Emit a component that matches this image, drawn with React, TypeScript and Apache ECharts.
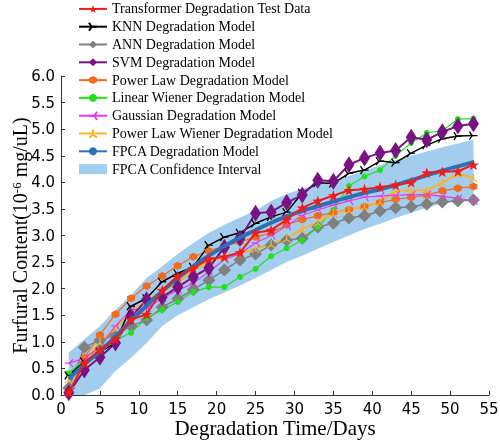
import React, { useEffect, useRef } from "react";
import * as echarts from "echarts";

const days = [1, 3, 5, 7, 9, 11, 13, 15, 17, 19, 21, 23, 25, 27, 29, 31, 33, 35, 37, 39, 41, 43, 45, 47, 49, 51, 53];

const testData = [0.05, 0.6, 0.85, 1.05, 1.42, 1.52, 1.97, 2.24, 2.38, 2.56, 2.6, 2.68, 3.05, 3.1, 3.3, 3.52, 3.65, 3.75, 3.85, 3.87, 3.91, 3.95, 4.0, 4.18, 4.2, 4.21, 4.33];
const knn = [0.37, 0.63, 0.81, 0.98, 1.67, 1.82, 2.13, 2.29, 2.41, 2.82, 2.97, 3.05, 3.23, 3.35, 3.44, 3.8, 3.99, 3.98, 4.17, 4.23, 4.4, 4.37, 4.55, 4.7, 4.82, 4.87, 4.88];
const ann = [0.13, 0.9, 1.03, 1.13, 1.3, 1.41, 1.65, 1.81, 1.98, 2.16, 2.35, 2.54, 2.65, 2.82, 2.91, 2.95, 3.16, 3.23, 3.33, 3.37, 3.46, 3.52, 3.54, 3.59, 3.63, 3.65, 3.67];
const svm = [0.04, 0.47, 0.71, 0.98, 1.47, 1.79, 1.84, 2.03, 2.22, 2.39, 2.78, 2.95, 3.42, 3.44, 3.62, 3.76, 4.04, 4.02, 4.33, 4.46, 4.55, 4.6, 4.85, 4.8, 4.95, 5.06, 5.1];
const powerLaw = [0.02, 0.7, 1.13, 1.52, 1.82, 2.05, 2.24, 2.43, 2.6, 2.71, 2.8, 2.88, 2.97, 3.05, 3.2, 3.3, 3.37, 3.43, 3.49, 3.54, 3.62, 3.68, 3.72, 3.76, 3.84, 3.89, 3.92];
const linearWiener = [0.41, 0.68, 0.9, 1.03, 1.17, 1.45, 1.6, 1.75, 1.94, 2.03, 2.03, 2.22, 2.37, 2.61, 2.76, 2.91, 3.16, 3.48, 3.93, 4.11, 4.23, 4.5, 4.74, 4.93, 4.97, 5.19, 5.2];
const gaussian = [0.6, 0.69, 0.9, 1.3, 1.6, 1.63, 1.82, 1.97, 2.1, 2.32, 2.55, 2.66, 2.86, 3.0, 3.18, 3.38, 3.48, 3.57, 3.65, 3.72, 3.74, 3.76, 3.77, 3.77, 3.74, 3.7, 3.65];
const powerLawWiener = [0.3, 0.65, 1.0, 1.25, 1.55, 1.78, 1.95, 2.1, 2.35, 2.5, 2.6, 2.66, 2.75, 2.84, 2.95, 3.12, 3.25, 3.42, 3.48, 3.55, 3.64, 3.84, 3.85, 3.85, 4.0, 4.16, 4.08];
const fpca = [0.3, 0.58, 0.82, 1.1, 1.4, 1.68, 1.95, 2.2, 2.42, 2.62, 2.8, 2.96, 3.1, 3.24, 3.36, 3.46, 3.55, 3.64, 3.72, 3.8, 3.87, 3.95, 4.04, 4.13, 4.22, 4.3, 4.38];
const bandLower = [0, 0, 0.12, 0.45, 0.7, 0.98, 1.3, 1.5, 1.65, 1.8, 1.93, 2.06, 2.2, 2.35, 2.5, 2.62, 2.75, 2.88, 3.0, 3.12, 3.22, 3.33, 3.43, 3.52, 3.6, 3.66, 3.72];
const bandUpper = [0.8, 1.05, 1.3, 1.6, 1.88, 2.2, 2.42, 2.65, 2.86, 3.05, 3.2, 3.34, 3.47, 3.65, 3.78, 3.88, 3.96, 4.04, 4.12, 4.22, 4.32, 4.42, 4.5, 4.58, 4.66, 4.73, 4.8];

const xTicks = [0, 55, 5];
const yTicks = [0, 6, 0.5];

const serif = "'Liberation Serif', 'Times New Roman', serif";
const sans = "'DejaVu Sans', sans-serif";
const BAND_COLOR = "#a3cdee";

const STAR = "path://M0,-10L2.35,-3.24L9.51,-3.09L3.8,1.24L5.88,8.09L0,4L-5.88,8.09L-3.8,1.24L-9.51,-3.09L-2.35,-3.24Z";
const TRI_RIGHT = "path://M0,0L10,0M0,0L-5,-8.66M0,0L-5,8.66";
const TRI_LEFT = "path://M0,0L-10,0M0,0L5,-8.66M0,0L5,8.66";
const TRI_UP = "path://M0,0L0,-10M0,0L-8.66,5M0,0L8.66,5";
const THIN_DIAMOND = "path://M0,-10L6,0L0,10L-6,0Z";
const HEXAGON = "path://M0,-10L8.66,-5L8.66,5L0,10L-8.66,5L-8.66,-5Z";

function pairs(vals: number[]) {
  return days.map((d, i) => [d, vals[i]]);
}

export default function App() {
  const ref = useRef<HTMLDivElement>(null);
  useEffect(() => {
    if (!ref.current) return;
    const chart = echarts.init(ref.current, undefined, { renderer: "svg" });
    const lineSeries = (
      name: string,
      vals: number[],
      color: string,
      width: number,
      symbol: string,
      size: number | number[],
      extra: any = {}
    ) => ({
      name,
      type: "line",
      data: pairs(vals),
      symbol,
      symbolSize: size,
      showSymbol: true,
      lineStyle: { color, width },
      itemStyle: { color, borderColor: color, borderWidth: extra.bw ?? 0 },
      emphasis: { disabled: true },
      z: extra.z ?? 2,
    });
    const option: any = {
      animation: false,
      grid: { left: 61, right: 11, top: 76, bottom: 46, containLabel: false, outerBoundsMode: "none" },
      legend: {
        left: 78,
        top: 0,
        orient: "vertical",
        itemWidth: 28,
        itemHeight: 10,
        itemGap: 0,
        padding: 0,
        textStyle: { fontFamily: serif, fontSize: 14, color: "#000", lineHeight: 17.8 },
        data: [
          "Transformer Degradation Test Data",
          "KNN Degradation Model",
          "ANN Degradation Model",
          "SVM Degradation Model",
          "Power Law Degradation Model",
          "Linear Wiener Degradation Model",
          "Gaussian Degradation Model",
          "Power Law Wiener Degradation Model",
          "FPCA Degradation Model",
          { name: "FPCA Confidence Interval", icon: "rect" },
        ],
      },
      xAxis: {
        type: "value",
        min: xTicks[0],
        max: xTicks[1],
        interval: xTicks[2],
        name: "Degradation Time/Days",
        nameLocation: "middle",
        nameGap: 25,
        nameMoveOverlap: false,
        nameTextStyle: { fontFamily: serif, fontSize: 21, lineHeight: 16, color: "#000" },
        axisLine: { lineStyle: { color: "#333", width: 1 } },
        axisTick: { inside: true, length: 4, lineStyle: { color: "#333" } },
        axisLabel: { fontFamily: sans, fontSize: 15, color: "#000", margin: 6, lineHeight: 15 },
        splitLine: { show: false },
      },
      yAxis: {
        type: "value",
        min: yTicks[0],
        max: yTicks[1],
        interval: yTicks[2],
        name: "{a|Furfural Content(10}{b|-6}{a| mg/uL)}",
        nameLocation: "middle",
        nameGap: 31,
        nameMoveOverlap: false,
        nameTextStyle: {
          rich: {
            a: { fontFamily: serif, fontSize: 20, color: "#000", lineHeight: 20 },
            b: { fontFamily: serif, fontSize: 13, color: "#000", lineHeight: 10, verticalAlign: "top" },
          },
        },
        axisLine: { show: true, lineStyle: { color: "#333", width: 1 } },
        axisTick: { show: true, inside: true, length: 4, lineStyle: { color: "#333" } },
        axisLabel: {
          fontFamily: sans,
          fontSize: 15,
          color: "#000",
          margin: 6,
          formatter: (v: number) => v.toFixed(1),
        },
        splitLine: { show: false },
      },
      series: [
        {
          name: "FPCA Confidence Interval",
          type: "custom",
          data: [[days[0], bandUpper[0]]],
          itemStyle: { color: BAND_COLOR },
          z: 1,
          silent: true,
          renderItem: (_params: any, api: any) => {
            const pts: number[][] = [];
            for (let i = 0; i < days.length; i++) pts.push(api.coord([days[i], bandUpper[i]]));
            for (let i = days.length - 1; i >= 0; i--) pts.push(api.coord([days[i], bandLower[i]]));
            return { type: "polygon", shape: { points: pts }, style: { fill: BAND_COLOR } };
          },
        },
        lineSeries("ANN Degradation Model", ann, "#808080", 1.5, "diamond", 13),
        lineSeries("Linear Wiener Degradation Model", linearWiener, "#22e01e", 1.2, "circle", 6),
        lineSeries("Power Law Degradation Model", powerLaw, "#f26b1f", 1.2, HEXAGON, 8),
        lineSeries("Power Law Wiener Degradation Model", powerLawWiener, "#f5b52a", 2, TRI_UP, 8, { bw: 1.2 }),
        lineSeries("Gaussian Degradation Model", gaussian, "#e53ce8", 1.2, TRI_LEFT, 8, { bw: 1.2 }),
        lineSeries("KNN Degradation Model", knn, "#000000", 1.5, TRI_RIGHT, 8, { bw: 1.3 }),
        lineSeries("SVM Degradation Model", svm, "#7a1382", 2, THIN_DIAMOND, [11, 17]),
        {
          name: "FPCA Degradation Model",
          type: "line",
          data: pairs(fpca),
          smooth: true,
          symbol: "none",
          lineStyle: { color: "#2e70b4", width: 4 },
          itemStyle: { color: "#2e70b4" },
          z: 3,
        },
        lineSeries("Transformer Degradation Test Data", testData, "#ee1c1c", 2, STAR, 11, { z: 3 }),
      ],
    };
    chart.setOption(option);
    return () => chart.dispose();
  }, []);
  return <div ref={ref} style={{ position: "fixed", left: 0, top: 0, width: 500, height: 441 }} />;
}
